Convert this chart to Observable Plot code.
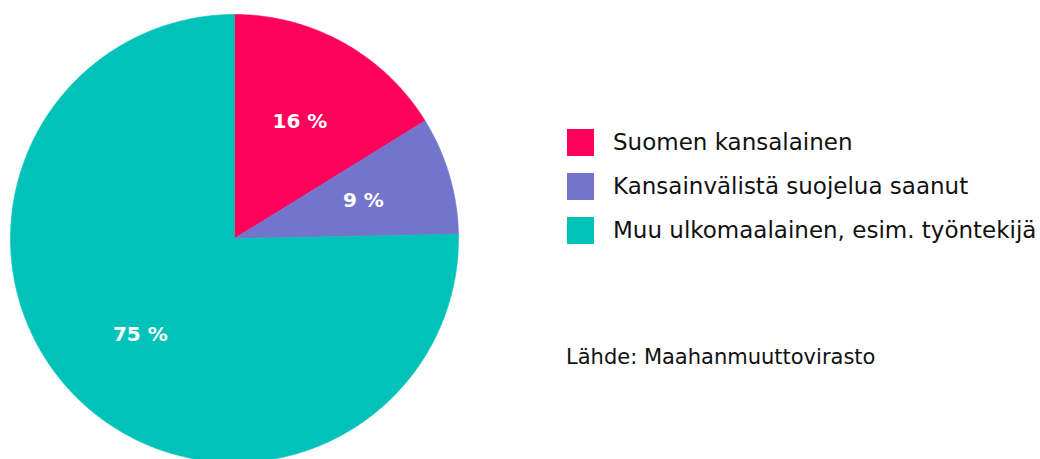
<!DOCTYPE html>
<html><head><meta charset="utf-8">
<script src="https://cdn.jsdelivr.net/npm/d3@7"></script>
<script src="https://cdn.jsdelivr.net/npm/@observablehq/plot@0.6"></script>
<style>
body{margin:0;background:#fff;}
#wrap{position:relative;width:1040px;height:459px;overflow:hidden;}
#legend{position:absolute;left:567px;top:120px;font-family:"DejaVu Sans",sans-serif;font-size:23px;color:#111;}
.item{display:flex;align-items:center;height:44px;white-space:nowrap;}
.sw{width:27px;height:27px;margin-right:19px;flex-shrink:0;}
#source{position:absolute;left:566px;top:345px;font-family:"DejaVu Sans",sans-serif;font-size:21px;color:#111;white-space:nowrap;}
#chart{position:absolute;left:0;top:0;}
</style>
</head><body>
<div id="wrap"><div id="chart"></div><div id="legend"></div><div id="source"></div></div>
<script>
const categories = ["Suomen kansalainen", "Kansainvälistä suojelua saanut", "Muu ulkomaalainen, esim. työntekijä"];
const values = [16.2, 8.5, 75.3];
const colors = ["#FF005A", "#7375CC", "#00C2B8"];
const source = "Lähde: Maahanmuuttovirasto";

const pie = d3.pie().sort(null).value(d => d.value).startAngle(0).endAngle(2 * Math.PI);
const arcs = pie(categories.map((c, i) => ({cat: c, value: values[i]})));

// polygon points of each slice (unit circle, y up)
const pts = [];
for (const a of arcs) {
  const n = Math.max(8, Math.ceil((a.endAngle - a.startAngle) * 120));
  pts.push({cat: a.data.cat, x: 0, y: 0});
  for (let k = 0; k <= n; k++) {
    const t = a.startAngle + (a.endAngle - a.startAngle) * k / n;
    pts.push({cat: a.data.cat, x: Math.sin(t), y: Math.cos(t)});
  }
  pts.push({cat: a.data.cat, x: 0, y: 0});
}
const lr = 0.6;
const labels = arcs.map(a => {
  const m = (a.startAngle + a.endAngle) / 2;
  return {cat: a.data.cat, x: lr * Math.sin(m), y: lr * Math.cos(m), text: Math.round(a.data.value) + " %"};
});

const W = 1040, H = 459, R = 224, cx = 234, cy = 238;
const chart = Plot.plot({
  width: W, height: H,
  margin: 0,
  x: {domain: [-cx / R, (W - cx) / R], axis: null},
  y: {domain: [(cy - H) / R, cy / R], axis: null},
  color: {domain: categories, range: colors},
  marks: [
    Plot.line(pts, {x: "x", y: "y", z: "cat", fill: "cat", stroke: "cat", strokeWidth: 0.6, curve: "linear"}),
    Plot.text(labels, {x: "x", y: "y", text: "text", fill: "white", fontSize: 20, fontWeight: "bold", fontFamily: "DejaVu Sans"})
  ]
});
document.getElementById("chart").appendChild(chart);

const color = chart.scale("color");
const lg = document.getElementById("legend");
categories.forEach((c, i) => {
  const it = document.createElement("div"); it.className = "item";
  const sw = document.createElement("div"); sw.className = "sw"; sw.style.background = color.range[i];
  const tx = document.createElement("span"); tx.textContent = c;
  it.appendChild(sw); it.appendChild(tx); lg.appendChild(it);
});
document.getElementById("source").textContent = source;
</script>
</body></html>
